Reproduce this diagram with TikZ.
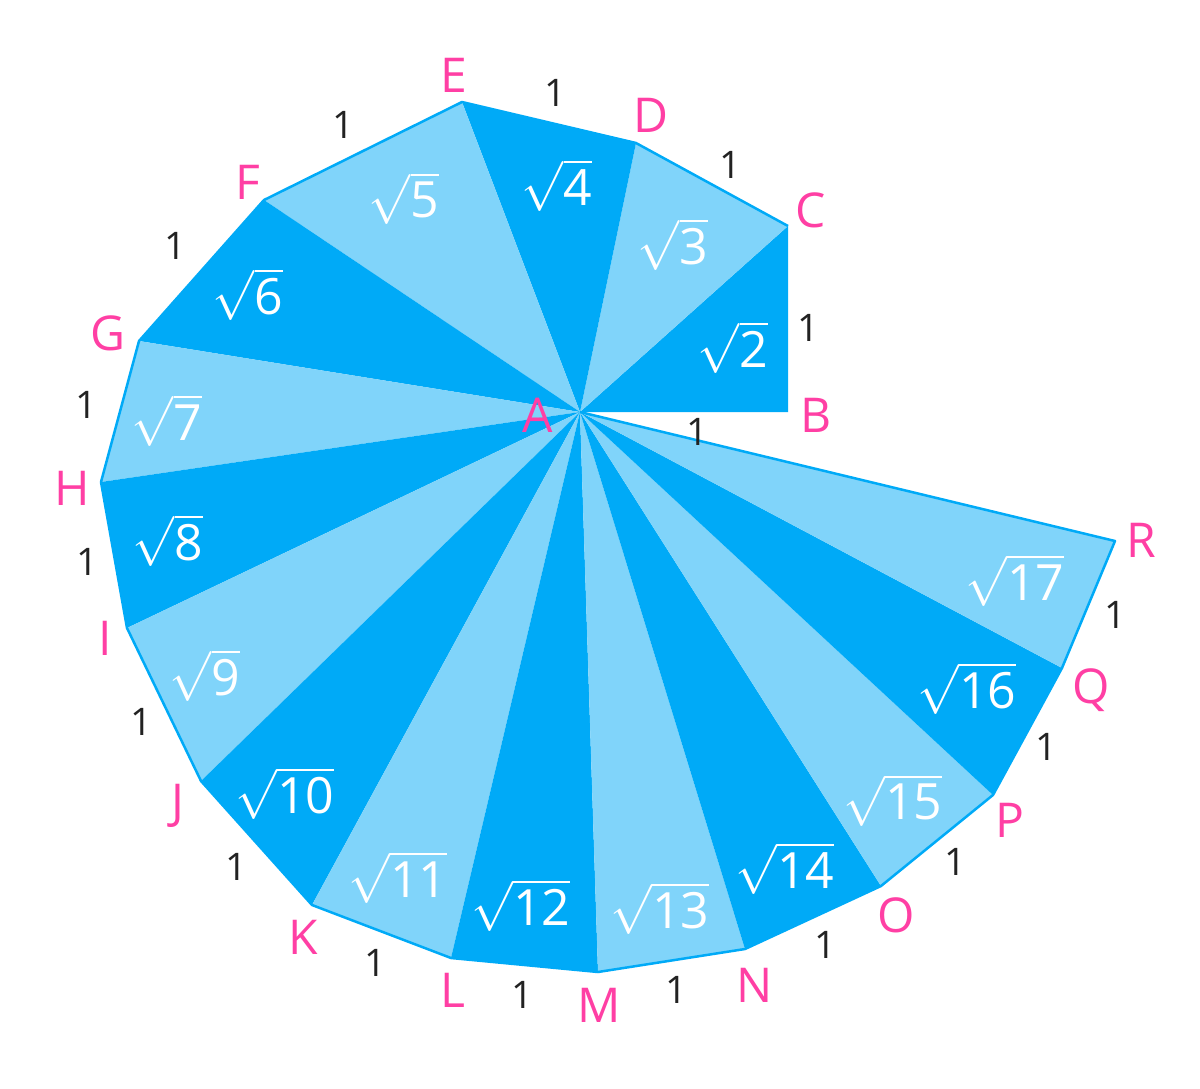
\documentclass[tikz,border=0pt]{standalone}
\usepackage{fix-cm}
\usepackage{fontspec}
\setmainfont{Open Sans}
\definecolor{darkblue}{HTML}{00AAF7}
\definecolor{lightblue}{HTML}{80D4FA}
\definecolor{pink}{HTML}{FF3FA4}
\definecolor{onegray}{HTML}{222222}
\begin{document}
\begin{tikzpicture}[x=1pt,y=-1pt,
    vertex/.style={text=pink,font=\fontsize{48}{48}\selectfont},
    unit/.style={text=onegray,font=\fontsize{38}{38}\selectfont},
    root/.style={text=white,font=\fontsize{50}{50}\selectfont}]
  \useasboundingbox (0,0) rectangle (1200,1088);
  \foreach \n/\x/\y in {A/580/412, B/788/412, C/788/226, D/636/143, E/462/102,
      F/264/200, G/139/341, H/101/482, I/127/628, J/201/781, K/312/905,
      L/451/958, M/598/972, N/745/949, O/881/886, P/993/795, Q/1062/668,
      R/1115/541}
    \coordinate (\n) at (\x,\y);
  % the sixteen triangles round A
  \foreach \p/\q/\c in {B/C/darkblue, C/D/lightblue, D/E/darkblue, E/F/lightblue,
      F/G/darkblue, G/H/lightblue, H/I/darkblue, I/J/lightblue, J/K/darkblue,
      K/L/lightblue, L/M/darkblue, M/N/lightblue, N/O/darkblue, O/P/lightblue,
      P/Q/darkblue, Q/R/lightblue}
    \fill[\c] (A) -- (\p) -- (\q) -- cycle;
  \draw[darkblue, line width=2.5, line join=round] (C) -- (D) -- (E) -- (F) -- (G)
    -- (H) -- (I) -- (J) -- (K) -- (L) -- (M) -- (N) -- (O) -- (P) -- (Q) -- (R) -- (A);
  % vertex letters
  \foreach \n/\x/\y in {A/538/415, B/816/415, C/811/210, D/651/115, E/454/75,
      F/248/182, G/108/333, H/72/488, I/105/638, J/178/806, K/303/937,
      L/453/990, M/599/1005, N/755/985, O/896/915, P/1010/820, Q/1091/690,
      R/1141/540}
    \node[vertex] (l\n) at (\x,\y) {\n};
  % unit sides
  \foreach \x/\y [count=\i] in {697/432, 808/328, 730/165, 555/93, 343/125,
      175/246, 86/405, 87/562, 141/722, 236/867, 375/963, 522/995, 676/990,
      825/945, 955/862, 1046/747, 1115/615}
    \node[unit] (u\i) at (\x,\y) {1};
  % hypotenuses
  \foreach \v/\x/\y in {2/733/347, 3/673/244, 4/557/185, 5/404/198, 6/248/294,
      7/167/420, 8/168/540, 9/205/675, 10/285/793, 11/398/877, 12/521/905,
      13/660/908, 14/785/868, 15/893/800, 16/967/688, 17/1015/580}
    \node[root] (r\v) at (\x,\y) {$\sqrt{\mbox{\v}}$};
\end{tikzpicture}
\end{document}
